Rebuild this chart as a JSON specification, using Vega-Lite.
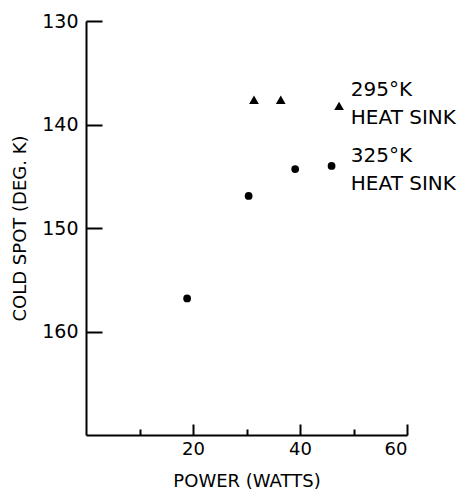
{
  "$schema": "https://vega.github.io/schema/vega-lite/v6.json",
  "width": 321,
  "height": 414,
  "autosize": "none",
  "padding": {"left": 86, "top": 21, "right": 59, "bottom": 56},
  "background": "white",
  "config": {"view": {"stroke": null}, "font": "DejaVu Sans"},
  "datasets": {
    "pts": [
      {"power": 31.4, "cold": 137.6, "sink": "295°K"},
      {"power": 36.4, "cold": 137.6, "sink": "295°K"},
      {"power": 47.3, "cold": 138.2, "sink": "295°K"},
      {"power": 18.9, "cold": 156.8, "sink": "325°K"},
      {"power": 30.4, "cold": 146.9, "sink": "325°K"},
      {"power": 39.1, "cold": 144.3, "sink": "325°K"},
      {"power": 45.9, "cold": 144.0, "sink": "325°K"}
    ],
    "labels": [
      {"power": 49.5, "cold": 136.7, "label": ["295°K", "HEAT SINK"]},
      {"power": 49.5, "cold": 143.0, "label": ["325°K", "HEAT SINK"]}
    ]
  },
  "layer": [
    {
      "data": {"name": "pts"},
      "mark": {"type": "point", "filled": true, "opacity": 1, "color": "black"},
      "encoding": {
        "x": {
          "field": "power", "type": "quantitative",
          "scale": {"domain": [0, 60], "nice": false, "zero": false},
          "axis": {
            "title": "POWER (WATTS)",
            "values": [10, 20, 30, 40, 50, 60],
            "labelExpr": "datum.value % 20 === 0 ? datum.label : ''",
            "grid": false,
            "domainColor": "black", "domainWidth": 2,
            "tickColor": "black", "tickWidth": 2,
            "tickSize": {"condition": {"test": "datum.value % 20 === 0", "value": -11}, "value": -6},
            "labelPadding": 16,
            "labelFontSize": 18, "labelColor": "black",
            "titleFontSize": 18, "titleFontWeight": "normal", "titleColor": "black",
            "titlePadding": 14
          }
        },
        "y": {
          "field": "cold", "type": "quantitative",
          "scale": {"domain": [130, 170], "reverse": true, "nice": false, "zero": false},
          "axis": {
            "title": "COLD SPOT (DEG. K)",
            "values": [130, 140, 150, 160],
            "grid": false,
            "domainColor": "black", "domainWidth": 2,
            "tickColor": "black", "tickWidth": 2, "tickSize": -16,
            "labelPadding": 24,
            "labelFontSize": 19, "labelColor": "black",
            "titleFontSize": 18, "titleFontWeight": "normal", "titleColor": "black",
            "titlePadding": 12
          }
        },
        "shape": {
          "field": "sink", "type": "nominal",
          "scale": {"domain": ["295°K", "325°K"], "range": ["triangle-up", "circle"]},
          "legend": null
        },
        "size": {
          "field": "sink", "type": "nominal",
          "scale": {"domain": ["295°K", "325°K"], "range": [95, 60]},
          "legend": null
        }
      }
    },
    {
      "data": {"name": "labels"},
      "mark": {"type": "text", "align": "left", "baseline": "middle", "fontSize": 20, "lineHeight": 28, "color": "black"},
      "encoding": {
        "x": {"field": "power", "type": "quantitative"},
        "y": {"field": "cold", "type": "quantitative"},
        "text": {"field": "label"}
      }
    }
  ]
}
